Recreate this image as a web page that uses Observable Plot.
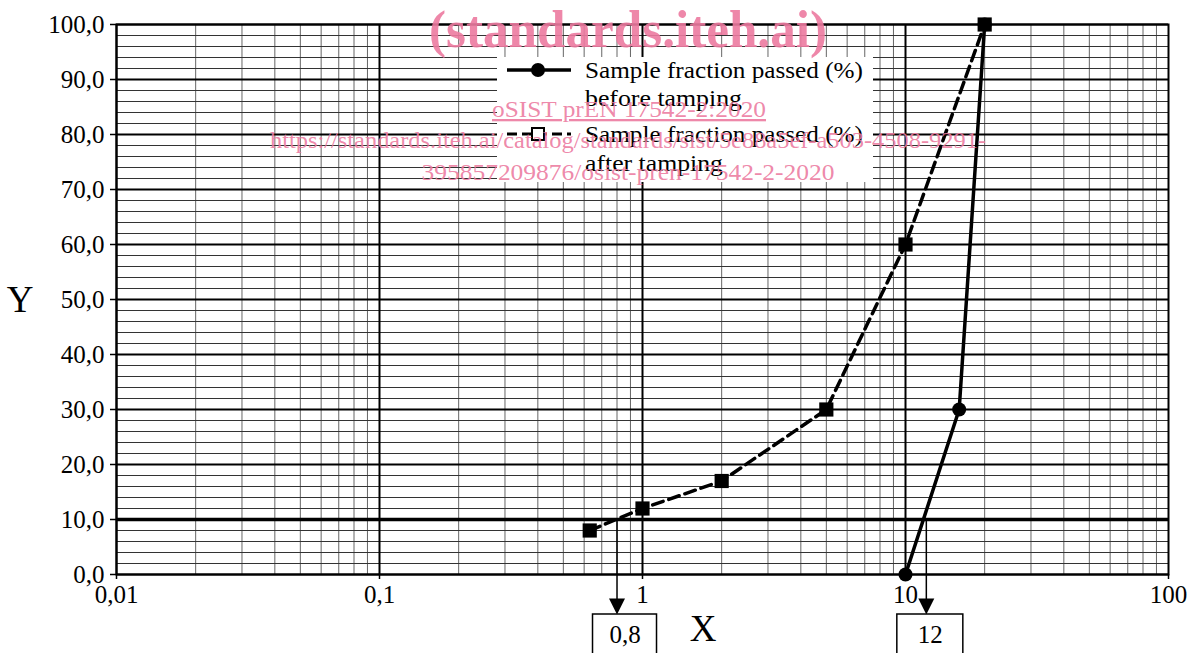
<!DOCTYPE html>
<html><head><meta charset="utf-8">
<script src="https://cdn.jsdelivr.net/npm/d3@7"></script>
<script src="https://cdn.jsdelivr.net/npm/@observablehq/plot@0.6"></script>
<style>body{margin:0;background:#fff} svg{display:block}</style>
</head><body><div id="chart"></div>
<script>
// ---- data ----
const beforeX = [10, 16, 20];
const beforeY = [0, 30, 100];
const afterX = [0.63, 1, 2, 5, 10, 20];
const afterY = [8, 12, 17, 30, 60, 100];
const xTickValues = [0.01, 0.1, 1, 10, 100];
const xTickLabels = ["0,01", "0,1", "1", "10", "100"];
const yTickValues = [0, 10, 20, 30, 40, 50, 60, 70, 80, 90, 100];
const yTickLabels = ["0,0","10,0","20,0","30,0","40,0","50,0","60,0","70,0","80,0","90,0","100,0"];
const threshold = 10;
const readX = [0.8, 12];
const readLabels = ["0,8", "12"];
const legendLines = [["Sample fraction passed (%)", "before tamping"], ["Sample fraction passed (%)", "after tamping"]];
const watermark = ["(standards.iteh.ai)", "oSIST prEN 17542-2:2020",
  "https://standards.iteh.ai/catalog/standards/sist/5e88a5ef-a503-4508-9291-",
  "395857209876/osist-pren-17542-2-2020"];

const before = beforeX.map((x, i) => ({x, y: beforeY[i]}));
const after = afterX.map((x, i) => ({x, y: afterY[i]}));
const decades = [0.01, 0.1, 1, 10];
const minorX = decades.flatMap(d => d3.range(2, 10).map(k => d * k));
const minorY = d3.range(0, 101, 2).filter(v => v % 10 !== 0);
const reads = readX.map((x, i) => ({x, label: readLabels[i]}));

const font = "Liberation Serif";
const downTri = {draw(ctx, size) { const r = Math.sqrt(size / Math.PI); ctx.moveTo(0, 0); ctx.lineTo(-r, -2 * r); ctx.lineTo(r, -2 * r); ctx.closePath(); }};

const boxInsets = [[-24, -40], [-29, -37]];
const labelDx = [8, 4];

const plot = Plot.plot({
  width: 1192, height: 653,
  marginLeft: 116, marginRight: 24, marginTop: 24, marginBottom: 79,
  style: {fontFamily: font, background: "white", overflow: "visible"},
  x: {type: "log", domain: [0.01, 100], axis: null},
  y: {domain: [0, 100], axis: null},
  marks: [
    Plot.ruleX(minorX, {stroke: "#666", strokeWidth: 1}),
    Plot.ruleY(minorY, {stroke: "#333", strokeWidth: 1}),
    Plot.ruleY(yTickValues, {stroke: "black", strokeWidth: 2}),
    Plot.ruleY([threshold], {stroke: "black", strokeWidth: 3.5}),
    Plot.ruleX(decades, {stroke: "black", strokeWidth: 2}),
    Plot.frame({stroke: "black", strokeWidth: 2}),
    Plot.axisX({ticks: xTickValues, tickFormat: d => xTickLabels[xTickValues.indexOf(d)], label: null, tickSize: 5, tickPadding: 6, fontSize: 25, strokeWidth: 1.5, fill: "black"}),
    Plot.axisY({ticks: yTickValues, tickFormat: d => yTickLabels[yTickValues.indexOf(d)], label: null, tickSize: 6, tickPadding: 6, fontSize: 25, strokeWidth: 1.5, fill: "black"}),
    Plot.line(after, {x: "x", y: "y", stroke: "black", strokeWidth: 3.5, strokeDasharray: "11,6"}),
    Plot.line(before, {x: "x", y: "y", stroke: "black", strokeWidth: 3.5}),
    Plot.dot(after, {x: "x", y: "y", symbol: "square", r: 8, fill: "black"}),
    Plot.dot(before, {x: "x", y: "y", symbol: "circle", r: 7, fill: "black"}),
    Plot.ruleX(reads, {x: "x", y1: threshold, y2: 0, insetBottom: -28, stroke: "black", strokeWidth: 1.5}),
    Plot.dot(reads, {x: "x", y: 0, dy: 40, symbol: downTri, r: 8, fill: "black"}),
    ...reads.map((d, i) => Plot.rect([d], {x1: "x", x2: "x", y1: 0, y2: 0, insetLeft: boxInsets[i][0], insetRight: boxInsets[i][1], insetTop: 40, insetBottom: -86, fill: "white", stroke: "black", strokeWidth: 1.5})),
    ...reads.map((d, i) => Plot.text([d], {x: "x", y: 0, text: "label", dx: labelDx[i], dy: 60, fontSize: 25, fill: "black"}))
  ]
});
document.getElementById("chart").appendChild(plot);

const svg = d3.select(plot);
// axis titles
svg.append("text").attr("x", 703).attr("y", 641).attr("text-anchor", "middle").attr("font-size", 37).attr("font-family", font).text("X");
svg.append("text").attr("x", 20).attr("y", 312).attr("text-anchor", "middle").attr("font-size", 37).attr("font-family", font).text("Y");

// legend
const lg = svg.append("g").attr("font-family", font).attr("font-size", 24).attr("fill", "black").attr("text-anchor", "start");
lg.append("rect").attr("x", 497).attr("y", 57).attr("width", 376).attr("height", 125).attr("fill", "white");
lg.append("line").attr("x1", 507).attr("x2", 571).attr("y1", 70).attr("y2", 70).attr("stroke", "black").attr("stroke-width", 3.5);
lg.append("circle").attr("cx", 538).attr("cy", 70).attr("r", 7).attr("fill", "black");
lg.append("line").attr("x1", 507).attr("x2", 571).attr("y1", 134).attr("y2", 134).attr("stroke", "black").attr("stroke-width", 3).attr("stroke-dasharray", "10,5");
lg.append("rect").attr("x", 532).attr("y", 128).attr("width", 12).attr("height", 12).attr("fill", "white").attr("stroke", "black").attr("stroke-width", 2);
const base = [[78, 106], [142, 171]];
const lens = [[278, 157], [278, 138]];
legendLines.forEach((lines, i) => lines.forEach((t, j) => {
  lg.append("text").attr("x", 585).attr("y", base[i][j]).attr("text-anchor", "start")
    .attr("textLength", lens[i][j]).attr("lengthAdjust", "spacingAndGlyphs").text(t);
}));

// watermark
const wm = svg.append("g").attr("font-family", font).attr("fill", "#ec7aa0").attr("fill-opacity", 0.9).attr("text-anchor", "middle");
wm.append("text").attr("x", 628).attr("y", 47).attr("font-size", 52).attr("font-weight", "bold").attr("textLength", 398).attr("lengthAdjust", "spacingAndGlyphs").text(watermark[0]);
wm.append("text").attr("x", 629).attr("y", 117).attr("font-size", 23).attr("text-decoration", "underline").attr("textLength", 274).attr("lengthAdjust", "spacingAndGlyphs").text(watermark[1]);
wm.append("text").attr("x", 628).attr("y", 148).attr("font-size", 23).attr("textLength", 716).attr("lengthAdjust", "spacingAndGlyphs").text(watermark[2]);
wm.append("text").attr("x", 628).attr("y", 180).attr("font-size", 23).attr("textLength", 413).attr("lengthAdjust", "spacingAndGlyphs").text(watermark[3]);
</script></body></html>
